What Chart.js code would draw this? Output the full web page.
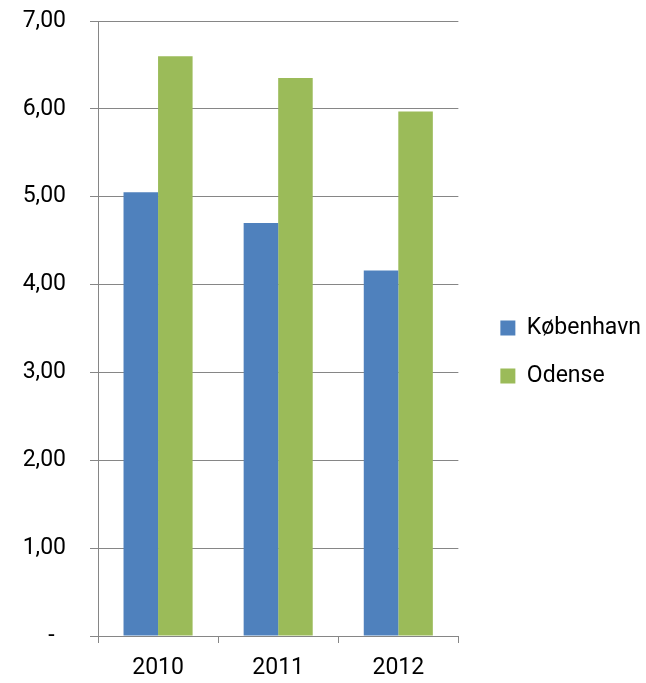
<!DOCTYPE html>
<html>
<head>
<meta charset="utf-8">
<script src="https://cdn.jsdelivr.net/npm/chart.js@4.4.1/dist/chart.umd.min.js"></script>
<style>
  body { margin: 0; background: #fff; }
</style>
</head>
<body>
<canvas id="chart1" width="646" height="683"></canvas>
<script>
const years = ["2010", "2011", "2012"];
const koebenhavn = [5.05, 4.70, 4.16];
const odense = [6.60, 6.35, 5.97];
const yTicks = [0, 1, 2, 3, 4, 5, 6, 7];

const axisGrey = "#868686";
const labelFont = { family: "Roboto", size: 23 };

const chart1 = document.getElementById("chart1");

const barChart = new Chart(chart1, {
    type: "bar",
    data: {
        labels: years,
        datasets: [
            {
                label: "København",
                data: koebenhavn,
                backgroundColor: "#4F81BD",
                borderWidth: 0
            },
            {
                label: "Odense",
                data: odense,
                backgroundColor: "#9BBB59",
                borderWidth: 0
            }
        ]
    },
    options: {
        responsive: false,
        animation: false,
        layout: { padding: { top: 21, right: -5, bottom: 0, left: 0 } },
        datasets: {
            bar: { categoryPercentage: 0.575, barPercentage: 1 }
        },
        plugins: {
            tooltip: { enabled: false },
            legend: {
                position: "right",
                maxWidth: 220,
                labels: {
                    boxWidth: 15,
                    boxHeight: 15,
                    padding: 25,
                    color: "#000",
                    font: labelFont
                }
            }
        },
        scales: {
            x: {
                grid: {
                    drawOnChartArea: false,
                    tickLength: 7,
                    color: axisGrey
                },
                border: { color: axisGrey },
                ticks: { color: "#000", font: labelFont, padding: 11 },
                afterFit: s => { s.height = 47; }
            },
            y: {
                min: 0,
                max: 7,
                afterBuildTicks: s => { s.ticks = yTicks.map(v => ({ value: v })); },
                grid: { color: axisGrey, tickLength: 8 },
                border: { color: axisGrey },
                ticks: {
                    color: "#000",
                    font: labelFont,
                    padding: 24,
                    callback: v => v === 0 ? "-  " : v.toFixed(2).replace(".", ",")
                },
                afterFit: s => {
                    s.width = 98;
                    s.paddingTop = 0;
                    s.paddingBottom = 0;
                }
            },
            gap: {
                type: "linear",
                position: "right",
                display: true,
                grid: { display: false },
                border: { display: false },
                ticks: { display: false },
                afterFit: s => {
                    s.width = 17;
                    s.paddingTop = 0;
                    s.paddingBottom = 0;
                }
            }
        }
    }
});
</script>
</body>
</html>
